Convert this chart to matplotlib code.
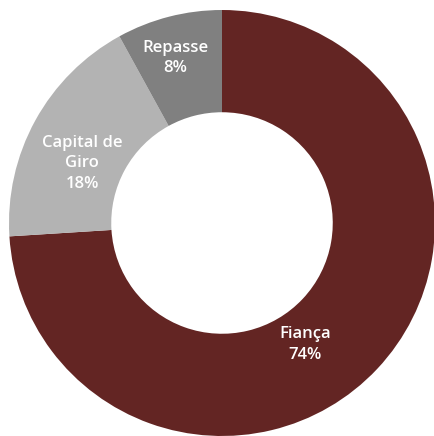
import matplotlib
matplotlib.use("Agg")
import matplotlib.pyplot as plt

categories = ["Fiança", "Capital de Giro", "Repasse"]
values = [74, 18, 8]
display_labels = ["Fiança\n74%", "Capital de\nGiro\n18%", "Repasse\n8%"]
colors = ["#632523", "#b3b3b3", "#808080"]
label_pos = [(0.39, -0.57), (-0.657, 0.28), (-0.22, 0.775)]

fig = plt.figure(figsize=(4.35, 4.36), dpi=100)
ax = fig.add_axes([0, 0, 1, 1])
ax.pie(values, colors=colors, startangle=90, counterclock=False, radius=1.0,
       wedgeprops=dict(width=0.48, linewidth=0))
for lab, (x, y) in zip(display_labels, label_pos):
    ax.text(x, y, lab, ha="center", va="center", color="white", fontsize=12,
            family="Open Sans", fontweight="semibold", linespacing=1.35)
ax.set_xlim(-222/213, 213/213)
ax.set_ylim(-213/213, 223/213)
ax.set_aspect("equal")
ax.axis("off")
fig.savefig("out.png", dpi=100)
